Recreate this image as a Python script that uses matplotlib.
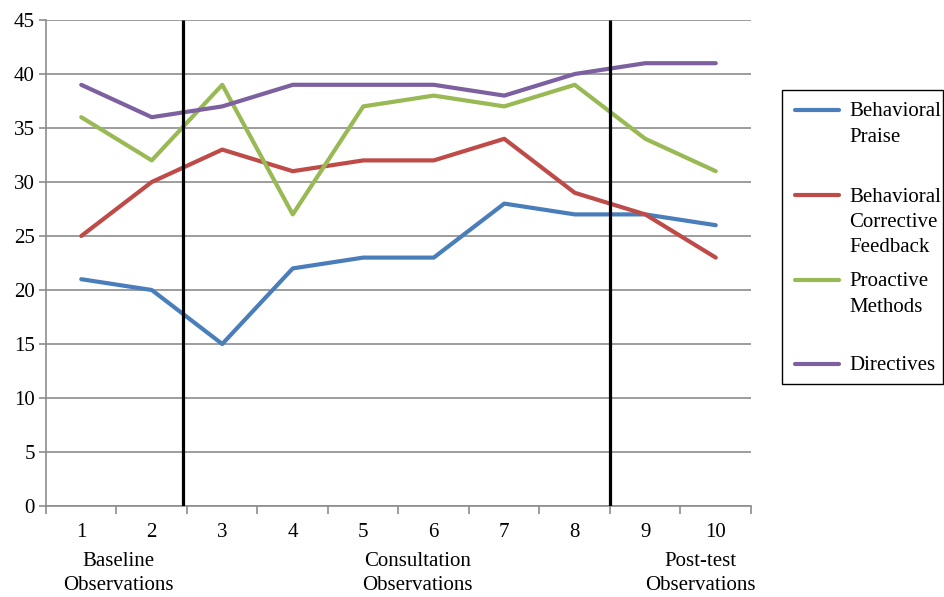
import matplotlib
matplotlib.use("Agg")
import matplotlib.pyplot as plt
from matplotlib.lines import Line2D
from matplotlib.patches import Rectangle
from matplotlib.transforms import blended_transform_factory

FONT = "Liberation Serif"
FS = 15

# Observation sessions and counts per behaviour category
sessions = [1, 2, 3, 4, 5, 6, 7, 8, 9, 10]
behavioral_praise = [21, 20, 15, 22, 23, 23, 28, 27, 27, 26]
corrective_feedback = [25, 30, 33, 31, 32, 32, 34, 29, 27, 23]
proactive_methods = [36, 32, 39, 27, 37, 38, 37, 39, 34, 31]
directives = [39, 36, 37, 39, 39, 39, 38, 40, 41, 41]

series_labels = [
    ["Behavioral", "Praise"],
    ["Behavioral", "Corrective", "Feedback"],
    ["Proactive", "Methods"],
    ["Directives"],
]
series_values = [behavioral_praise, corrective_feedback, proactive_methods, directives]
series_colors = ["#4A7EBB", "#BE4B48", "#98B954", "#7D60A0"]

# Phase boundaries and phase names
phase_breaks = [2.45, 8.5]
phase_names = [("Baseline", "Observations", 1.53),
               ("Consultation", "Observations", 5.77),
               ("Post-test", "Observations", 9.78)]

y_ticks = list(range(0, 46, 5))

W, H = 945, 597
fig = plt.figure(figsize=(W / 100, H / 100), dpi=100)
ax = fig.add_axes([46 / W, 1 - 506 / H, (751 - 46) / W, (506 - 20) / H])

grid_color = "#8C8C8C"
for y in y_ticks:
    ax.axhline(y, color=grid_color, linewidth=1.2, zorder=1)

for vals, col in zip(series_values, series_colors):
    ax.plot(sessions, vals, color=col, linewidth=3.0,
            solid_joinstyle="round", solid_capstyle="round", zorder=3)

for xb in phase_breaks:
    ax.plot([xb, xb], [0, 45], color="black", linewidth=2.3, zorder=4,
            solid_capstyle="butt")

ax.set_xlim(0.5, 10.5)
ax.set_ylim(0, 45)
ax.set_yticks(y_ticks)
ax.set_yticklabels([str(v) for v in y_ticks], fontsize=FS, family=FONT)
ax.set_xticks([s - 0.5 for s in sessions] + [10.5])
ax.set_xticklabels([])
ax.set_xticks(sessions, minor=True)
ax.set_xticklabels([str(s) for s in sessions], minor=True, fontsize=FS, family=FONT)
ax.tick_params(axis="x", which="major", length=6, width=1.2, color=grid_color,
               direction="out")
ax.tick_params(axis="x", which="minor", length=0, pad=12.5)
ax.tick_params(axis="y", length=5, width=1.2, color=grid_color, pad=3)

for side in ["top", "right"]:
    ax.spines[side].set_visible(False)
for side in ["left", "bottom"]:
    ax.spines[side].set_color(grid_color)
    ax.spines[side].set_linewidth(1.2)
ax.set_facecolor("white")

# Phase names under the axis
trans = blended_transform_factory(ax.transData, fig.transFigure)
for top, bottom, xc in phase_names:
    ax.text(xc, 1 - 562 / H, top, transform=trans, ha="center", va="center",
            fontsize=FS, family=FONT)
    ax.text(xc, 1 - 586 / H, bottom, transform=trans, ha="center", va="center",
            fontsize=FS, family=FONT)

# Legend box on the right
fig.patches.append(Rectangle((782 / W, 1 - 384 / H), (943 - 782) / W, (384 - 90) / H,
                             transform=fig.transFigure, facecolor="white",
                             edgecolor="black", linewidth=1.0))
entry_y = [110, 195, 280, 364]
for lines, col, ey in zip(series_labels, series_colors, entry_y):
    fig.lines.append(Line2D([795 / W, 839 / W], [1 - ey / H, 1 - ey / H],
                            transform=fig.transFigure, color=col, linewidth=3.0,
                            solid_capstyle="round"))
    for i, ln in enumerate(lines):
        fig.text(849 / W, 1 - (ey + 2 + 25.5 * i) / H, ln, ha="left", va="center",
                 fontsize=FS, family=FONT)

fig.savefig("out.png", dpi=100, facecolor="white")
